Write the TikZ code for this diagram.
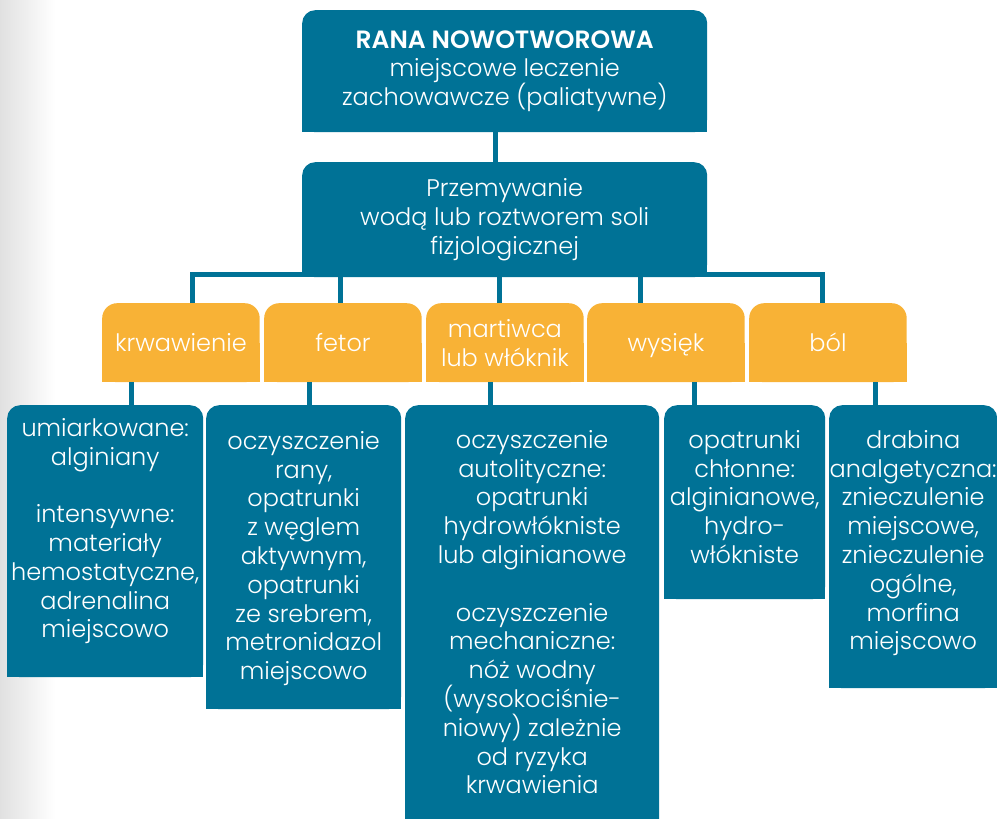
\documentclass[tikz,border=0pt]{standalone}
\usepackage{fontspec}
\setmainfont{Poppins}[UprightFont=* Light, BoldFont=* SemiBold]
\usetikzlibrary{positioning,backgrounds}
\definecolor{WoundBlue}{RGB}{0,114,150}
\definecolor{WoundOrange}{RGB}{248,178,54}

\tikzset{
  bluebox/.style={fill=WoundBlue, rounded corners=13pt, inner sep=0pt, anchor=north west, text=white, align=center},
  orangebox/.style={fill=WoundOrange, rounded corners=15pt, inner sep=0pt, anchor=north west,
    minimum width=157.5pt, minimum height=79pt, text=white, align=center},
  boxtext/.style={text=white, align=center, inner sep=0pt},
  link/.style={draw=WoundBlue, line width=5pt},
}

\begin{document}
\begin{tikzpicture}[x=1pt, y=-1pt, font=\fontsize{24}{28.8}\selectfont]

\clip (0,0) rectangle (997,819);

% grey edge on the left
\begin{scope}[on background layer]
\shade[left color=black!12, right color=white] (0,0) rectangle (55,819);
\end{scope}

\def \yOrange {303}
\def \yLow    {405}

% upper boxes
\node[bluebox, minimum width=405pt, minimum height=122pt] (topbox) at (302,10)
  {\textbf{\fontsize{25}{28.8}\selectfont RANA NOWOTWOROWA}\\ miejscowe leczenie\\ zachowawcze (paliatywne)};
\node[bluebox, minimum width=405pt, minimum height=115pt] (rinsebox) at (302,162)
  {Przemywanie\\ wodą lub roztworem soli\\ fizjologicznej};

% orange row
\node[orangebox] (krw)  at (102,\yOrange) {krwawienie};
\node[orangebox] (fet)  at (264,\yOrange) {fetor};
\node[orangebox] (mart) at (426,\yOrange) {martiwca\\ lub włóknik};
\node[orangebox, text depth=0pt] (wys) at (587,\yOrange) {wysięk};
\node[orangebox] (bol)  at (749,\yOrange) {ból};

% lower boxes
\node[bluebox, minimum width=196pt, minimum height=272pt] (krwL)  at (7,\yLow) {};
\node[bluebox, minimum width=195pt, minimum height=304pt] (fetL)  at (206,\yLow) {};
\node[bluebox, minimum width=254pt, minimum height=430pt] (martL) at (405,\yLow) {};
\node[bluebox, minimum width=161pt, minimum height=194pt] (wysL)  at (664,\yLow) {};
\node[bluebox, minimum width=168pt, minimum height=283pt] (bolL)  at (829,\yLow) {};

% texts of lower boxes
\node[boxtext, below=11pt of krwL.north] (krwT)
  {\strut umiarkowane:\\ alginiany\\[28.8pt] intensywne:\\ materiały\\ hemostatyczne,\\ adrenalina\\ miejscowo};
\node[boxtext, below=24pt of fetL.north] (fetT)
  {\strut oczyszczenie\\ rany,\\ opatrunki\\ z węglem\\ aktywnym,\\ opatrunki\\ ze srebrem,\\ metronidazol\\ miejscowo};
\node[boxtext, below=23pt of martL.north] (martT)
  {\strut oczyszczenie\\ autolityczne:\\ opatrunki\\ hydrowłókniste\\ lub alginianowe\\[28.8pt]
   oczyszczenie\\ mechaniczne:\\ nóż wodny\\ (wysokociśnie-\\ niowy) zależnie\\ od ryzyka\\ krwawienia};
\node[boxtext, below=23pt of wysL.north] (wysT)
  {\strut opatrunki\\ chłonne:\\ alginianowe,\\ hydro-\\ włókniste};
\node[boxtext, below=23pt of bolL.north] (bolT)
  {\strut drabina\\ analgetyczna:\\ znieczulenie\\ miejscowe,\\ znieczulenie\\ ogólne,\\ morfina\\ miejscowo};

% square bottoms
\begin{scope}[on background layer]
\foreach \b/\c in {topbox/WoundBlue, rinsebox/WoundBlue, krw/WoundOrange, fet/WoundOrange,
  mart/WoundOrange, wys/WoundOrange, bol/WoundOrange, krwL/WoundBlue, fetL/WoundBlue,
  martL/WoundBlue, wysL/WoundBlue, bolL/WoundBlue}
  \fill[\c] (\b.south west) rectangle (\b.east);
\end{scope}

% connectors
\draw[link] ([xshift=-9pt]topbox.south) -- ([xshift=-9pt]rinsebox.north);

\draw[link] ([xshift=11.5pt]krw.north)  |- ([yshift=2.5pt]rinsebox.south);
\draw[link] ([xshift=-2pt]fet.north)    |- ([yshift=2.5pt]rinsebox.south);
\draw[link] ([xshift=-5pt]mart.north)   |- ([yshift=2.5pt]rinsebox.south);
\draw[link] ([xshift=-25.5pt]wys.north) |- ([yshift=2.5pt]rinsebox.south);
\draw[link] ([xshift=-5.5pt]bol.north)  |- ([yshift=2.5pt]rinsebox.south);

\draw[link] ([xshift=-49.5pt]krw.south) -- ([xshift=-49.5pt]krw.south |- krwL.north);
\draw[link] ([xshift=-33pt]fet.south)   -- ([xshift=-33pt]fet.south |- fetL.north);
\draw[link] ([xshift=-14pt]mart.south)  -- ([xshift=-14pt]mart.south |- martL.north);
\draw[link] ([xshift=28.5pt]wys.south)  -- ([xshift=28.5pt]wys.south |- wysL.north);
\draw[link] ([xshift=47.5pt]bol.south)  -- ([xshift=47.5pt]bol.south |- bolL.north);

\end{tikzpicture}
\end{document}
